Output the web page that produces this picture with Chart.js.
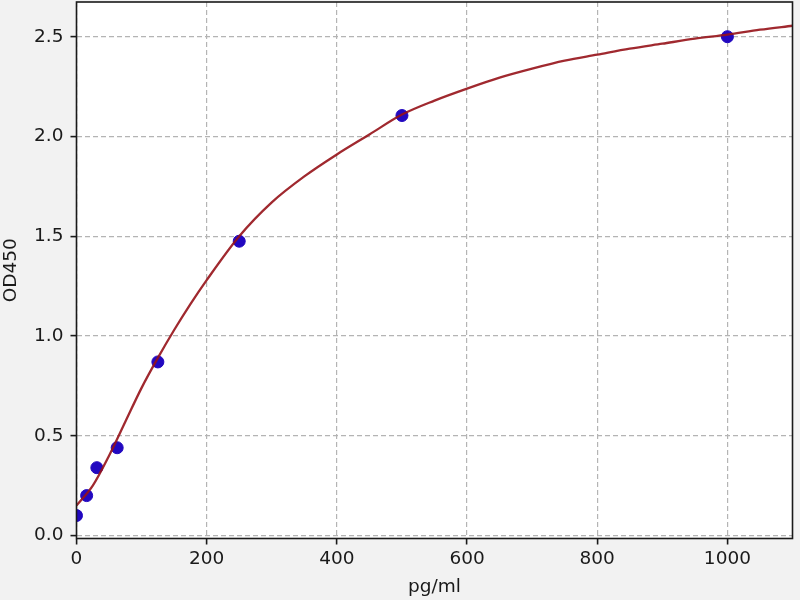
<!DOCTYPE html>
<html>
<head>
<meta charset="utf-8">
<script src="https://cdn.jsdelivr.net/npm/chart.js@4"></script>
<style>
  html, body { margin: 0; padding: 0; background: #f2f2f2; }
  #wrap { width: 800px; height: 600px; }
</style>
</head>
<body>
<div id="wrap"><canvas id="chart" width="800" height="600"></canvas></div>
<script>
// standards (pg/ml) and measured OD450
const concentrations = [0, 15.6, 31.25, 62.5, 125, 250, 500, 1000];
const odValues = [0.10, 0.20, 0.34, 0.44, 0.87, 1.475, 2.105, 2.50];

// fitted curve
const curveX = [0, 25, 50, 75, 100, 125, 150, 175, 200, 250, 300, 350, 400, 450, 500, 550, 600, 650, 700, 750, 800, 850, 900, 950, 1000, 1050, 1100];
const curveY = [0.15, 0.25, 0.40, 0.57, 0.74, 0.89, 1.03, 1.16, 1.28, 1.50, 1.67, 1.80, 1.91, 2.01, 2.11, 2.18, 2.24, 2.295, 2.34, 2.38, 2.41, 2.44, 2.465, 2.49, 2.51, 2.535, 2.555];

const xTicks = [0, 200, 400, 600, 800, 1000];
const yTicks = [0.0, 0.5, 1.0, 1.5, 2.0, 2.5];

const labelFont = { family: 'DejaVu Sans', size: 18.5 };

const frame = {
    id: 'frame',
    beforeDraw(chart) {
        const { ctx, chartArea: a } = chart;
        ctx.save();
        ctx.fillStyle = '#f2f2f2';
        ctx.fillRect(0, 0, chart.width, chart.height);
        ctx.fillStyle = '#ffffff';
        ctx.fillRect(a.left, a.top, a.right - a.left, a.bottom - a.top);
        ctx.restore();
    },
    afterDraw(chart) {
        const { ctx, chartArea: a } = chart;
        ctx.save();
        ctx.strokeStyle = '#1a1a1a';
        ctx.lineWidth = 1.6;
        ctx.strokeRect(a.left, a.top, a.right - a.left, a.bottom - a.top);
        ctx.restore();
    }
};

const gridOpts = {
    color: '#b4b4b4',
    lineWidth: 1.2,
    tickColor: '#1a1a1a',
    tickLength: 6,
    tickWidth: 1.6,
    tickBorderDash: [],
    drawTicks: true
};

new Chart(document.getElementById('chart'), {
    type: 'scatter',
    data: {
        datasets: [{
            type: 'line',
            data: curveX.map((x, i) => ({ x, y: curveY[i] })),
            borderColor: 'rgba(150, 18, 24, 0.9)',
            borderWidth: 2.3,
            pointRadius: 0,
            cubicInterpolationMode: 'monotone',
            fill: false,
            order: 1
        }, {
            data: concentrations.map((x, i) => ({ x, y: odValues[i] })),
            backgroundColor: '#2208c0',
            borderColor: '#2208c0',
            pointRadius: 6,
            order: 2
        }]
    },
    options: {
        responsive: false,
        animation: false,
        layout: { autoPadding: false, padding: { left: 0, right: 7.5, top: 2, bottom: 0 } },
        plugins: { legend: { display: false }, tooltip: { enabled: false } },
        scales: {
            x: {
                type: 'linear',
                min: 0,
                max: 1100,
                afterBuildTicks: s => { s.ticks = xTicks.map(v => ({ value: v })); },
                afterFit: s => { s.height = 61.5; s.paddingLeft = 0; s.paddingRight = 0; },
                grid: gridOpts,
                border: { display: false, dash: [5, 3] },
                ticks: { color: '#1a1a1a', font: labelFont, padding: 4, maxRotation: 0,
                         callback: v => String(v) },
                title: { display: true, text: 'pg/ml', color: '#1a1a1a', font: labelFont, padding: { top: 0, bottom: 2 } }
            },
            y: {
                type: 'linear',
                min: -0.015,
                max: 2.674,
                afterBuildTicks: s => { s.ticks = yTicks.map(v => ({ value: v })); },
                afterFit: s => { s.width = 76.5; s.paddingTop = 0; s.paddingBottom = 0; },
                grid: gridOpts,
                border: { display: false, dash: [5, 3] },
                ticks: { color: '#1a1a1a', font: labelFont, padding: 7,
                         callback: v => v.toFixed(1) },
                title: { display: true, text: 'OD450', color: '#1a1a1a', font: labelFont, padding: { top: 0, bottom: 0 } }
            }
        }
    },
    plugins: [frame]
});
</script>
</body>
</html>
